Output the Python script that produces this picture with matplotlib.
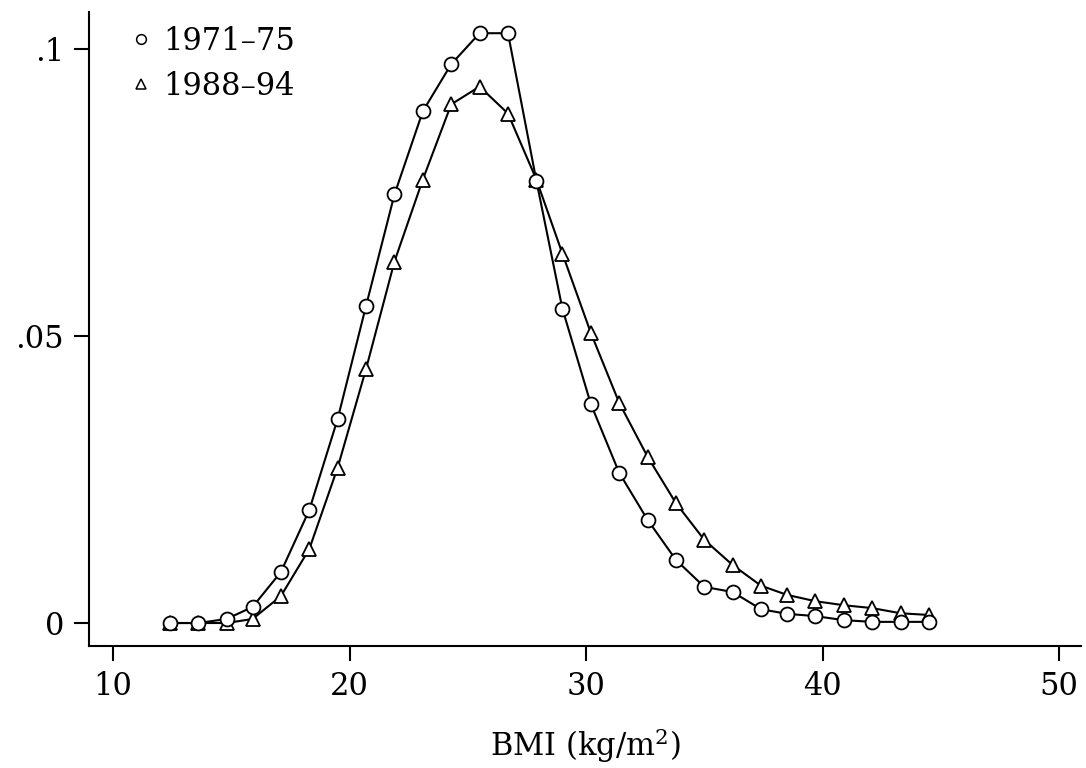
import matplotlib.pyplot as plt
from matplotlib.lines import Line2D

# BMI bin midpoints
bmi = [12.4, 13.6, 14.8, 15.9, 17.1, 18.3, 19.5, 20.7, 21.9, 23.1, 24.3, 25.5,
       26.7, 27.9, 29.0, 30.2, 31.4, 32.6, 33.8, 35.0, 36.2, 37.4, 38.5, 39.7,
       40.9, 42.1, 43.3, 44.5]

# density, 1971-75
dens_7175 = [0.0, 0.0, 0.0007, 0.0028, 0.0089, 0.0197, 0.0356, 0.0553, 0.0747,
             0.0892, 0.0974, 0.1028, 0.1028, 0.0771, 0.0548, 0.0382, 0.0262,
             0.0180, 0.0110, 0.0063, 0.0054, 0.0024, 0.0016, 0.0012, 0.0005,
             0.0002, 0.0002, 0.0002]

# density, 1988-94
dens_8894 = [0.0, 0.0, 0.0, 0.0007, 0.0047, 0.0129, 0.0271, 0.0443, 0.0630,
             0.0773, 0.0904, 0.0935, 0.0888, 0.0773, 0.0644, 0.0506, 0.0384,
             0.0290, 0.0209, 0.0145, 0.0101, 0.0065, 0.0049, 0.0038, 0.0031,
             0.0026, 0.0017, 0.0014]

labels = ['1971\u201375', '1988\u201394']
xticks = [10, 20, 30, 40, 50]
yticks = [0, 0.05, 0.1]
yticklabels = ['0', '.05', '.1']

plt.rcParams['font.family'] = 'DejaVu Serif'
plt.rcParams['mathtext.fontset'] = 'dejavuserif'

fig = plt.figure(figsize=(10.86, 7.68), dpi=100)
ax = fig.add_axes([0.08195, 0.1589, 0.9135, 0.8255])

ax.plot(bmi, dens_7175, color='black', lw=1.5, marker='o', ms=10,
        mfc='white', mec='black', mew=1.3, zorder=3)
ax.plot(bmi, dens_8894, color='black', lw=1.5, marker='^', ms=10,
        mfc='white', mec='black', mew=1.3, zorder=2)

ax.set_xlim(8.985, 50.93)
ax.set_ylim(-0.0040, 0.1065)
ax.set_xticks(xticks)
ax.set_yticks(yticks)
ax.set_yticklabels(yticklabels)

for s in ['top', 'right']:
    ax.spines[s].set_visible(False)
for s in ['left', 'bottom']:
    ax.spines[s].set_linewidth(1.5)

ax.tick_params(direction='out', length=11, width=1.5, labelsize=22, pad=7)
ax.set_xlabel('BMI (kg/m$^2$)', fontsize=22, labelpad=17)

handles = [Line2D([], [], ls='none', marker='o', ms=7, mfc='white', mec='black', mew=1.1),
           Line2D([], [], ls='none', marker='^', ms=7, mfc='white', mec='black', mew=1.1)]
ax.legend(handles, labels, loc='upper left', bbox_to_anchor=(0.032, 0.997),
          frameon=False, fontsize=22, handlelength=0.5, handletextpad=0.5,
          labelspacing=0.45, borderaxespad=0)

fig.savefig('out.png', dpi=100)
